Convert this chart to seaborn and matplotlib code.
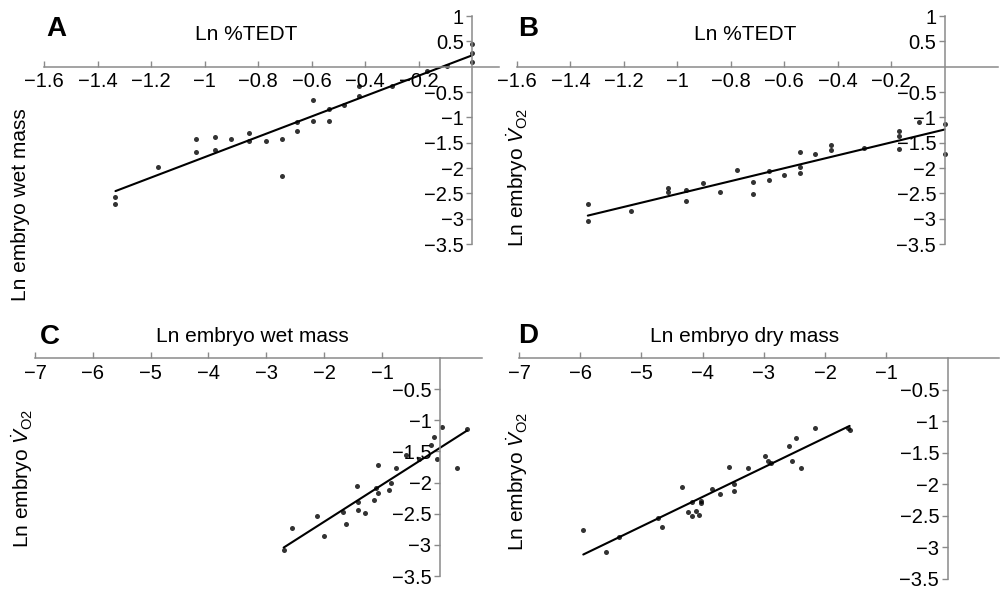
import numpy as np
import pandas as pd
import matplotlib
matplotlib.use("Agg")
import matplotlib.pyplot as plt
import seaborn as sns

# --- data ---
# A: Ln %TEDT vs Ln embryo wet mass
a_x = [0.0, 0.0, 0.0, -0.093, -0.168, -0.30, -0.424, -0.424, -0.48, -0.536, -0.536,
       -0.594, -0.594, -0.654, -0.654, -0.71, -0.71, -0.77, -0.835, -0.835, -0.90,
       -0.962, -0.962, -1.032, -1.032, -1.174, -1.333, -1.333]
a_y = [0.45, 0.26, 0.10, 0.02, -0.09, -0.375, -0.375, -0.57, -0.76, -0.83, -1.07,
       -0.66, -1.07, -1.10, -1.27, -1.43, -2.16, -1.46, -1.30, -1.47, -1.43,
       -1.39, -1.64, -1.43, -1.68, -1.99, -2.57, -2.71]

# B: Ln %TEDT vs Ln embryo VO2
b_x = [0.0, 0.0, -0.095, -0.17, -0.17, -0.17, -0.303, -0.425, -0.425, -0.483, -0.54,
       -0.54, -0.54, -0.60, -0.658, -0.658, -0.715, -0.715, -0.776, -0.84, -0.905,
       -0.967, -0.967, -1.035, -1.035, -1.175, -1.335, -1.335]
b_y = [-1.14, -1.73, -1.10, -1.26, -1.37, -1.62, -1.60, -1.55, -1.65, -1.73, -1.69,
       -1.98, -2.09, -2.14, -2.05, -2.24, -2.28, -2.52, -2.04, -2.48, -2.29,
       -2.43, -2.65, -2.40, -2.48, -2.84, -2.71, -3.05]

# C: Ln embryo wet mass vs Ln embryo VO2
c_x = [0.04, 0.47, -0.10, -0.16, -0.05, -0.36, -0.58, 0.30, -0.75, -1.07, -0.84,
       -0.87, -1.10, -1.07, -1.14, -1.44, -1.41, -1.41, -1.29, -1.67, -1.63,
       -2.13, -2.01, -2.56, -2.70]
c_y = [-1.11, -1.14, -1.27, -1.40, -1.62, -1.62, -1.55, -1.76, -1.76, -1.71, -2.01,
       -2.12, -2.08, -2.17, -2.28, -2.05, -2.31, -2.44, -2.49, -2.48, -2.67,
       -2.53, -2.85, -2.73, -3.08]

# D: Ln embryo dry mass vs Ln embryo VO2
d_x = [-5.95, -5.58, -5.37, -4.73, -4.66, -4.33, -4.24, -4.17, -4.17, -4.11, -4.06,
       -4.02, -4.02, -3.85, -3.71, -3.57, -3.49, -3.49, -3.26, -2.99, -2.93,
       -2.88, -2.59, -2.54, -2.48, -2.39, -2.17, -1.62, -1.60]
d_y = [-2.72, -3.07, -2.84, -2.53, -2.67, -2.05, -2.44, -2.28, -2.50, -2.42, -2.49,
       -2.26, -2.30, -2.08, -2.16, -1.72, -1.99, -2.11, -1.74, -1.55, -1.63,
       -1.67, -1.39, -1.63, -1.27, -1.74, -1.11, -1.11, -1.14]

tedt_ticks = [-1.6, -1.4, -1.2, -1, -0.8, -0.6, -0.4, -0.2]
mass_ticks = [-7, -6, -5, -4, -3, -2, -1]
top_yticks = [1, 0.5, -0.5, -1, -1.5, -2, -2.5, -3, -3.5]
bot_yticks = [-0.5, -1, -1.5, -2, -2.5, -3, -3.5]

sns.set_style("white")
plt.rcParams["font.family"] = ["Liberation Sans", "DejaVu Sans"]
plt.rcParams["mathtext.fontset"] = "custom"
plt.rcParams["mathtext.rm"] = "Liberation Sans"
plt.rcParams["mathtext.it"] = "Liberation Sans:italic"
plt.rcParams["text.color"] = "black"

W, H = 1000, 592
fig = plt.figure(figsize=(10, 5.92), dpi=100)


def px_axes(left, top, right, bottom):
    return fig.add_axes([left / W, 1 - bottom / H, (right - left) / W, (bottom - top) / H])


def fmt(v):
    return f"{v:g}".replace("-", "\u2212")


GREY = "#8a8a8a"


def draw(ax, x, y, xlim, ylim, xticks, yticks):
    df = pd.DataFrame({"x": x, "y": y})
    sns.regplot(data=df, x="x", y="y", ax=ax, ci=None, color="black",
                scatter_kws={"marker": "D", "s": 13, "linewidths": 0},
                line_kws={"linewidth": 1.5})
    ax.set_xlim(*xlim)
    ax.set_ylim(*ylim)
    ax.set_xlabel("")
    ax.set_ylabel("")
    ax.set_xticks(xticks)
    ax.set_xticklabels([fmt(v) for v in xticks])
    ax.set_yticks(yticks)
    ax.set_yticklabels([fmt(v) for v in yticks])
    for s in ["top", "right"]:
        ax.spines[s].set_visible(False)
    ax.spines["left"].set_position(("data", 0))
    ax.spines["bottom"].set_position(("data", 0))
    for s in ["left", "bottom"]:
        ax.spines[s].set_color(GREY)
        ax.spines[s].set_linewidth(1.1)
    ax.tick_params(axis="x", direction="in", length=4, width=1, color=GREY,
                   labelsize=14.5, labelcolor="black", pad=4, bottom=True)
    ax.tick_params(axis="y", direction="out", length=4, width=1, color=GREY,
                   labelsize=14.5, labelcolor="black", pad=2, left=True)
    ax.patch.set_alpha(0)


ax_a = px_axes(44, 16, 499, 244)
draw(ax_a, a_x, a_y, (-1.6, 0.1), (-3.5, 1), tedt_ticks, top_yticks)
ax_b = px_axes(517, 16, 998, 244)
draw(ax_b, b_x, b_y, (-1.6, 0.2), (-3.5, 1), tedt_ticks, top_yticks)
ax_c = px_axes(35, 358, 482, 576)
draw(ax_c, c_x, c_y, (-7, 0.73), (-3.5, 0), mass_ticks, bot_yticks)
ax_d = px_axes(519, 358, 999, 579)
draw(ax_d, d_x, d_y, (-7, 0.84), (-3.5, 0), mass_ticks, bot_yticks)


def ftext(x, y, s, **kw):
    fig.text(x / W, 1 - y / H, s, ha="center", va="center", **kw)


vo2 = r"Ln embryo $\dot{V}_{\mathrm{O2}}$"
for lab, x, y in [("A", 56, 29), ("B", 528, 29), ("C", 50, 337), ("D", 528, 336)]:
    ftext(x, y, lab, fontsize=20, fontweight="bold")
for t, x, y in [("Ln %TEDT", 246, 35), ("Ln %TEDT", 745, 35),
                ("Ln embryo wet mass", 252, 336), ("Ln embryo dry mass", 745, 336)]:
    ftext(x, y, t, fontsize=15)
ftext(21, 205, "Ln embryo wet mass", fontsize=15, rotation=90)
ftext(517, 177, vo2, fontsize=15, rotation=90)
ftext(22, 478, vo2, fontsize=15, rotation=90)
ftext(517, 481, vo2, fontsize=15, rotation=90)

fig.savefig("out.png", dpi=100, facecolor="white")
